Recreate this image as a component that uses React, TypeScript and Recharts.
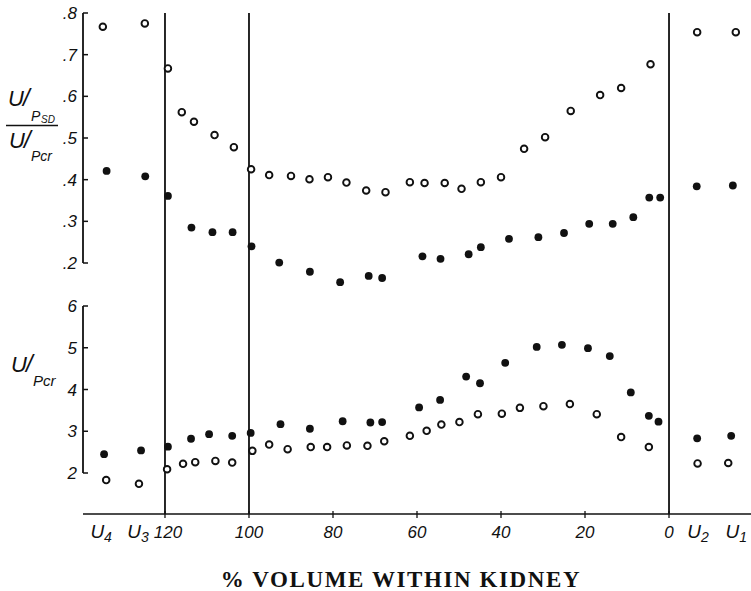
import React from 'react';
import { ScatterChart, Scatter, XAxis, YAxis, ReferenceLine } from 'recharts';

// x positions are "% volume within kidney"; U4/U3 sit left of 120, U2/U1 right of 0
const xTickPos = [135.2, 126.4, 120, 100, 80, 60, 40, 20, 0, -6.9, -16.0];
const xTickLabels = ['U4', 'U3', '120', '100', '80', '60', '40', '20', '0', 'U2', 'U1'];
const dividerPos = [120, 100, 0];

const ratioTicks = [0.2, 0.3, 0.4, 0.5, 0.6, 0.7, 0.8];
const uPcrTicks = [2, 3, 4, 5, 6];

// Upper panel: (U/P_SD)/(U/P_cr)
const ratioOpenPos = [134.8, 124.8, 119.3, 116.0, 113.1, 108.2, 103.6, 99.5, 95.2, 90.0, 85.6, 81.2, 76.8, 72.1, 67.5, 61.7, 58.2, 53.4, 49.4, 44.8, 40.0, 34.5, 29.5, 23.4, 16.4, 11.4, 4.4, -6.7, -15.9];
const ratioOpenVal = [0.767, 0.775, 0.667, 0.562, 0.539, 0.507, 0.478, 0.425, 0.411, 0.409, 0.401, 0.406, 0.393, 0.374, 0.370, 0.394, 0.392, 0.392, 0.378, 0.394, 0.406, 0.474, 0.502, 0.565, 0.603, 0.620, 0.677, 0.754, 0.754];
const ratioFilledPos = [133.9, 124.7, 119.3, 113.7, 108.7, 103.9, 99.4, 92.8, 85.5, 78.3, 71.5, 68.3, 58.7, 54.4, 47.7, 44.8, 38.1, 31.1, 25.0, 19.0, 13.4, 8.5, 4.7, 2.1, -6.6, -15.2];
const ratioFilledVal = [0.421, 0.408, 0.361, 0.285, 0.274, 0.274, 0.240, 0.201, 0.179, 0.154, 0.169, 0.164, 0.216, 0.210, 0.221, 0.238, 0.258, 0.262, 0.272, 0.294, 0.294, 0.310, 0.357, 0.357, 0.384, 0.386];

// Lower panel: U/P_cr
const uPcrFilledPos = [134.5, 125.7, 119.3, 113.8, 109.5, 104.0, 99.6, 92.5, 85.5, 77.7, 71.1, 68.3, 59.5, 54.5, 48.3, 45.0, 39.0, 31.5, 25.5, 19.3, 14.1, 9.1, 4.8, 2.5, -6.7, -14.8];
const uPcrFilledVal = [2.45, 2.54, 2.63, 2.82, 2.93, 2.89, 2.96, 3.17, 3.06, 3.24, 3.21, 3.22, 3.57, 3.75, 4.31, 4.15, 4.64, 5.02, 5.07, 4.99, 4.80, 3.93, 3.37, 3.23, 2.83, 2.89];
const uPcrOpenPos = [134.0, 126.2, 119.5, 115.7, 112.8, 108.0, 104.0, 99.2, 95.2, 90.8, 85.3, 81.4, 76.7, 71.8, 67.8, 61.7, 57.7, 54.2, 49.9, 45.5, 39.8, 35.5, 29.9, 23.6, 17.2, 11.4, 4.8, -6.8, -14.1];
const uPcrOpenVal = [1.83, 1.74, 2.09, 2.22, 2.26, 2.29, 2.25, 2.53, 2.68, 2.57, 2.62, 2.62, 2.66, 2.65, 2.76, 2.89, 3.01, 3.16, 3.22, 3.41, 3.42, 3.56, 3.60, 3.65, 3.41, 2.86, 2.62, 2.23, 2.24];

const zip = (xs: number[], ys: number[]) => xs.map((x, i) => ({ x, y: ys[i] }));

const X_DOMAIN: [number, number] = [-19.52, 139.52];
const X_LEFT = 139.52;

const OpenDot = (p: any) => (
  <circle cx={p.cx} cy={p.cy} r={3.3} fill="#fff" stroke="#111" strokeWidth={1.9} />
);
const FilledDot = (p: any) => <circle cx={p.cx} cy={p.cy} r={3.9} fill="#111" />;

const tickFont = { fontFamily: 'Liberation Sans, Arial, sans-serif', fontStyle: 'italic' as const };

const makeYTick = (fmt: (v: number) => string) => (p: any) => {
  const ax = 83;
  return (
    <g>
      <line x1={ax} x2={ax + 5} y1={p.y} y2={p.y} stroke="#111" strokeWidth={1.5} />
      <text x={ax - 6} y={p.y} dy={6} textAnchor="end" fontSize={17} fill="#111" {...tickFont}>
        {fmt(p.payload.value)}
      </text>
    </g>
  );
};

const XTick = (p: any) => {
  const idx = xTickPos.indexOf(p.payload.value);
  const lab = idx >= 0 ? xTickLabels[idx] : String(p.payload.value);
  const isU = lab.startsWith('U');
  const shift = lab === '120' ? 3 : 0;
  return (
    <g>
      {!isU && <line x1={p.x} x2={p.x} y1={p.y - 3} y2={p.y + 4} stroke="#111" strokeWidth={1.3} />}
      <text x={p.x + shift} y={p.y} dy={24} textAnchor="middle" fontSize={17} fill="#111" {...tickFont}>
        {isU ? (
          <>
            <tspan fontSize={19}>U</tspan>
            <tspan fontSize={14} dy={4}>{lab.slice(1)}</tspan>
          </>
        ) : (
          lab
        )}
      </text>
    </g>
  );
};

const lblFont = { fill: '#111', fontFamily: 'Liberation Sans, Arial, sans-serif', fontStyle: 'italic' as const };

const RatioLabel = () => (
  <g>
    <text x={8} y={106} fontSize={22} {...lblFont}>U</text>
    <text x={23} y={106} fontSize={24} {...lblFont}>/</text>
    <text x={31} y={121} fontSize={14} {...lblFont}>P</text>
    <text x={41} y={123} fontSize={10} {...lblFont}>SD</text>
    <line x1={6} x2={58} y1={125.5} y2={125.5} stroke="#111" strokeWidth={1.4} />
    <text x={9} y={148} fontSize={22} {...lblFont}>U</text>
    <text x={24} y={148} fontSize={24} {...lblFont}>/</text>
    <text x={31} y={161} fontSize={14} {...lblFont}>Pcr</text>
  </g>
);

const UPcrLabel = () => (
  <g>
    <text x={11} y={372} fontSize={22} {...lblFont}>U</text>
    <text x={26} y={372} fontSize={24} {...lblFont}>/</text>
    <text x={33} y={386} fontSize={15} {...lblFont}>Pcr</text>
  </g>
);

const TitleLabel = () => (
  <text
    x={401}
    y={587}
    textAnchor="middle"
    fontSize={23}
    fontWeight="bold"
    letterSpacing={1.6}
    fontFamily="Liberation Serif, DejaVu Serif, serif"
    fill="#111"
  >
    % VOLUME WITHIN KIDNEY
  </text>
);

export default function App() {
  return (
    <div style={{ position: 'absolute', left: 0, top: 0, background: '#fff' }}>
      <ScatterChart width={751} height={591} margin={{ top: 13, right: 0, bottom: 47, left: 81 }}>
        <XAxis
          dataKey="x"
          type="number"
          xAxisId="x"
          domain={X_DOMAIN}
          allowDataOverflow
          reversed
          ticks={xTickPos}
          interval={0}
          height={30}
          tickSize={0}
          tickMargin={0}
          tick={XTick}
          axisLine={{ stroke: '#111', strokeWidth: 1.6 }}
          tickLine={false}
          label={{ content: TitleLabel }}
        />
        <YAxis
          yAxisId="ratio"
          dataKey="y"
          type="number"
          domain={[-0.4024, 0.8]}
          allowDataOverflow
          ticks={ratioTicks}
          interval={0}
          width={1}
          tickSize={0}
          tickMargin={0}
          axisLine={false}
          tickLine={false}
          tick={makeYTick((v) => v.toFixed(1).replace(/^0/, ''))}
          label={{ content: RatioLabel }}
        />
        <YAxis
          yAxisId="upcr"
          dataKey="y"
          type="number"
          domain={[1.018, 13.018]}
          allowDataOverflow
          ticks={uPcrTicks}
          interval={0}
          width={1}
          tickSize={0}
          tickMargin={0}
          axisLine={false}
          tickLine={false}
          tick={makeYTick((v) => String(v))}
          label={{ content: UPcrLabel }}
        />
        <ReferenceLine
          xAxisId="x"
          yAxisId="ratio"
          segment={[{ x: X_LEFT, y: 0.2 }, { x: X_LEFT, y: 0.8 }]}
          stroke="#111"
          strokeWidth={1.8}
          ifOverflow="visible"
        />
        <ReferenceLine
          xAxisId="x"
          yAxisId="upcr"
          segment={[{ x: X_LEFT, y: 2 }, { x: X_LEFT, y: 6 }]}
          stroke="#111"
          strokeWidth={1.8}
          ifOverflow="visible"
        />
        {dividerPos.map((v) => (
          <ReferenceLine key={v} xAxisId="x" yAxisId="ratio" x={v} stroke="#111" strokeWidth={1.8} />
        ))}
        <Scatter xAxisId="x" yAxisId="ratio" data={zip(ratioOpenPos, ratioOpenVal)} shape={OpenDot} isAnimationActive={false} />
        <Scatter xAxisId="x" yAxisId="ratio" data={zip(ratioFilledPos, ratioFilledVal)} shape={FilledDot} isAnimationActive={false} />
        <Scatter xAxisId="x" yAxisId="upcr" data={zip(uPcrFilledPos, uPcrFilledVal)} shape={FilledDot} isAnimationActive={false} />
        <Scatter xAxisId="x" yAxisId="upcr" data={zip(uPcrOpenPos, uPcrOpenVal)} shape={OpenDot} isAnimationActive={false} />
      </ScatterChart>
    </div>
  );
}
